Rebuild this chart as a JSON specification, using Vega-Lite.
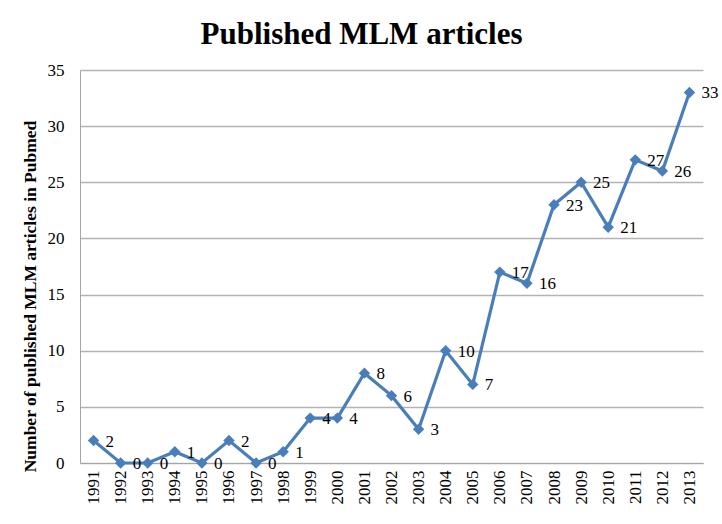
{
  "$schema": "https://vega.github.io/schema/vega-lite/v6.json",
  "autosize": "none",
  "width": 623,
  "height": 393,
  "padding": {"left": 80, "top": 70, "right": 19, "bottom": 61},
  "background": "white",
  "title": {
    "text": "Published MLM articles",
    "font": "Liberation Serif",
    "fontSize": 31,
    "fontWeight": "bold",
    "color": "black",
    "anchor": "middle",
    "dx": -30,
    "offset": 10
  },
  "data": {
    "values": [
      {"year": "1991", "n": 2}, {"year": "1992", "n": 0}, {"year": "1993", "n": 0},
      {"year": "1994", "n": 1}, {"year": "1995", "n": 0}, {"year": "1996", "n": 2},
      {"year": "1997", "n": 0}, {"year": "1998", "n": 1}, {"year": "1999", "n": 4},
      {"year": "2000", "n": 4}, {"year": "2001", "n": 8}, {"year": "2002", "n": 6},
      {"year": "2003", "n": 3}, {"year": "2004", "n": 10}, {"year": "2005", "n": 7},
      {"year": "2006", "n": 17}, {"year": "2007", "n": 16}, {"year": "2008", "n": 23},
      {"year": "2009", "n": 25}, {"year": "2010", "n": 21}, {"year": "2011", "n": 27},
      {"year": "2012", "n": 26}, {"year": "2013", "n": 33}
    ]
  },
  "encoding": {
    "x": {
      "field": "year", "type": "ordinal",
      "scale": {"type": "point", "padding": 0.5},
      "axis": {
        "title": null, "labelAngle": -90, "labelFont": "Liberation Serif",
        "labelFontSize": 17, "labelColor": "black", "ticks": false,
        "labelPadding": 7, "domainColor": "#a6a6a6", "grid": false
      }
    },
    "y": {
      "field": "n", "type": "quantitative",
      "scale": {"domain": [0, 35], "nice": false},
      "axis": {
        "values": [0, 5, 10, 15, 20, 25, 30, 35],
        "title": "Number of published MLM articles in Pubmed",
        "titleFont": "Liberation Serif", "titleFontSize": 17.5, "titleFontWeight": "bold",
        "titleColor": "black", "titleAngle": -90, "titleX": -50, "titleY": 226,
        "titleAlign": "center", "titleBaseline": "middle",
        "labelFont": "Liberation Serif", "labelFontSize": 17, "labelColor": "black",
        "ticks": false, "labelPadding": 16, "domainColor": "#a6a6a6",
        "gridColor": "#b3b3b3", "gridWidth": 1.3
      }
    }
  },
  "layer": [
    {"mark": {"type": "line", "color": "#4a7ebb", "strokeWidth": 3.2}},
    {"mark": {"type": "point", "shape": "diamond", "filled": true, "opacity": 1, "color": "#4a7ebb", "size": 130}},
    {
      "mark": {"type": "text", "align": "left", "baseline": "middle", "dx": 12, "dy": 1, "font": "Liberation Serif", "fontSize": 17, "color": "black"},
      "encoding": {"text": {"field": "n", "type": "quantitative"}}
    }
  ],
  "config": {"view": {"stroke": null}}
}
